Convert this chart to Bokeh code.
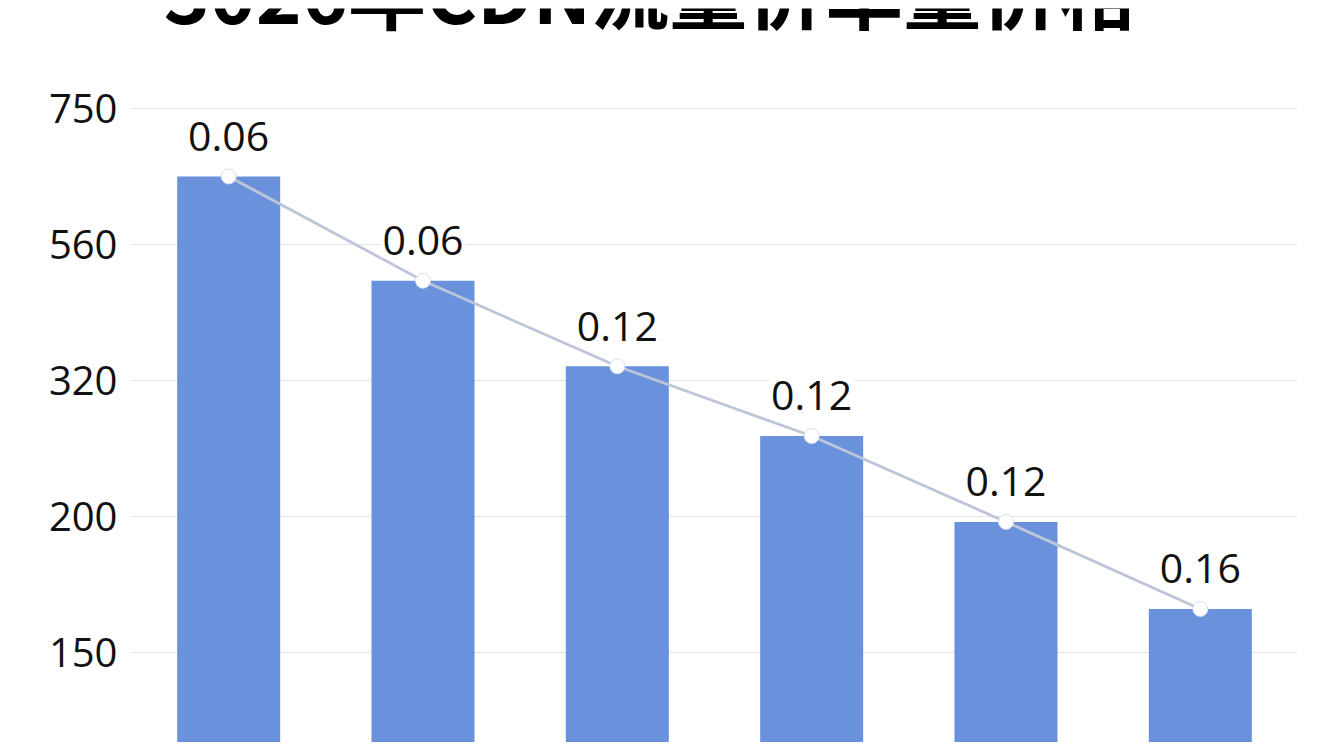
import numpy as np
from bokeh.plotting import figure
from bokeh.models import ColumnDataSource, FixedTicker, Label, Range1d, FactorRange
from bokeh.core.properties import value
from bokeh.embed import file_html
from bokeh.resources import INLINE

# ---- data ----
title_text = "3026年CDN流量价单量价格"
categories = ["1", "2", "3", "4", "5", "6"]
volumes = [655, 496, 345, 271, 198, 166]
prices = ["0.06", "0.06", "0.12", "0.12", "0.12", "0.16"]
tick_values = [150, 200, 320, 560, 750]
tick_labels = ["150", "200", "320", "560", "750"]

# the axis is an ordinal one: each tick value is one equal step
tick_pos = list(range(1, len(tick_values) + 1))
vol_pos = np.interp(volumes, tick_values, tick_pos)

src = ColumnDataSource(dict(cat=categories, v=vol_pos, price=prices))

W, H = 1328, 742
p = figure(width=W, height=H, x_range=FactorRange(*categories),
           y_range=Range1d(0.338, 5.735), output_backend="svg",
           toolbar_location=None, min_border_left=131, min_border_right=31,
           min_border_top=8, min_border_bottom=0, outline_line_color=None,
           background_fill_color="white", border_fill_color="white")
p.x_range.range_padding = 0
p.xaxis.visible = False
p.xgrid.visible = False

p.yaxis.ticker = FixedTicker(ticks=tick_pos)
p.yaxis.major_label_overrides = {t: l for t, l in zip(tick_pos, tick_labels)}
p.yaxis.axis_line_color = None
p.yaxis.major_tick_line_color = None
p.yaxis.minor_tick_line_color = None
p.yaxis.major_label_text_font = "Open Sans"
p.yaxis.major_label_text_font_size = "40px"
p.yaxis.major_label_text_color = "#111111"
p.yaxis.major_label_standoff = 8
p.ygrid.grid_line_color = "#e3e3e3"
p.ygrid.grid_line_width = 1.2

p.vbar(x="cat", top="v", bottom=0, width=0.53, source=src,
       fill_color="#6a92dc", line_color=None)
p.line(x="cat", y="v", source=src, line_color="#bcc6d8", line_width=2.8)
p.scatter(x="cat", y="v", source=src, size=15, marker="circle",
          fill_color="white", line_color="#d8dee8", line_width=1)
p.text(x="cat", y="v", text="price", source=src, y_offset=-40,
       text_align="center", text_baseline="alphabetic",
       text_font=value("Open Sans"), text_font_size="41px",
       text_color="#111111", background_fill_color="white", padding=2)

p.add_layout(Label(x=519, y=753, x_units="screen", y_units="screen",
                   text=title_text, text_align="center",
                   text_baseline="alphabetic",
                   text_font="Noto Sans CJK SC", text_font_style="bold",
                   text_font_size="78px", text_color="#000000"))

open("out.html", "w").write(file_html(p, INLINE))
